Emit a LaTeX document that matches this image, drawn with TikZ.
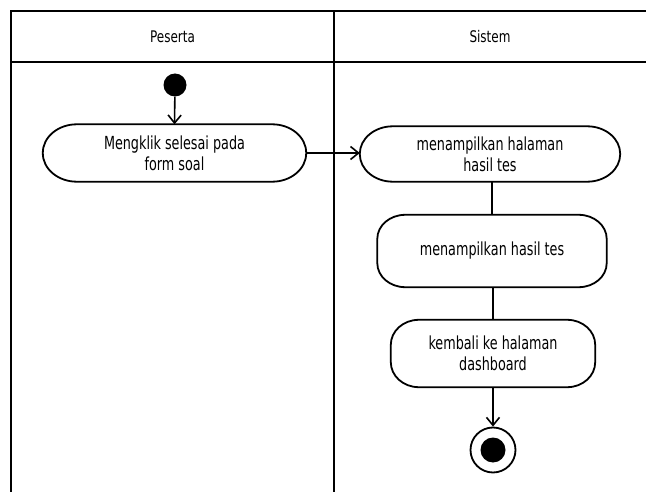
\documentclass[tikz,border=0pt]{standalone}
\usepackage{fontspec}
\setmainfont{DejaVu Sans}[FakeStretch=0.75]
\newfontfamily\actfont{DejaVu Sans}[FakeStretch=0.71]
\usetikzlibrary{arrows.meta}
% outline of an activity: rectangle with quarter-ellipse corners (rx, ry)
\newcommand\actoutline[3]{%
  \draw[actline] ([xshift=#2]#1.north west) -- ([xshift=-#2]#1.north east)
    .. controls ([xshift=-0.448*#2]#1.north east) and ([yshift=-0.448*#3]#1.north east)
    .. ([yshift=-#3]#1.north east) -- ([yshift=#3]#1.south east)
    .. controls ([yshift=0.448*#3]#1.south east) and ([xshift=-0.448*#2]#1.south east)
    .. ([xshift=-#2]#1.south east) -- ([xshift=#2]#1.south west)
    .. controls ([xshift=0.448*#2]#1.south west) and ([yshift=0.448*#3]#1.south west)
    .. ([yshift=#3]#1.south west) -- ([yshift=-#3]#1.north west)
    .. controls ([yshift=-0.448*#3]#1.north west) and ([xshift=0.448*#2]#1.north west)
    .. cycle;}
\begin{document}
\begin{tikzpicture}[x=1pt,y=-1pt,
  lane/.style={line width=2pt,black},
  lanehead/.style={font=\fontsize{16}{18}\selectfont},
  activity/.style={align=center,inner sep=0pt,font=\actfont\fontsize{18}{21}\selectfont},
  actline/.style={line width=1.8pt,line join=round},
  flow/.style={line width=1.6pt,-{Straight Barb[length=8pt,width=13pt,line width=1.6pt]}},
  link/.style={line width=1.6pt},
  startnode/.style={circle,fill=black,inner sep=0pt,minimum size=23pt},
  endring/.style={circle,draw,line width=1.8pt,inner sep=0pt,minimum size=45pt},
  endcore/.style={circle,fill=black,inner sep=0pt,minimum size=25pt}]
\useasboundingbox (0,0) rectangle (646,492);
\fill[white] (0,0) rectangle (646,492);

% swimlane frame
\coordinate (tl) at (11,11);
\coordinate (tr) at (646,11);
\coordinate (hl) at (11,62);
\coordinate (hr) at (646,62);
\coordinate (bl) at (11,492);
\coordinate (dtop) at (334,11);
\coordinate (dbot) at (334,492);
\draw[lane] (tr) -- (tl) -- (bl);
\draw[lane] (hl) -- (hr);
\draw[lane] (dtop) -- (dbot);
\node[lanehead] (h1) at (172.5,37) {Peserta};
\node[lanehead] (h2) at (490,37) {Sistem};

% activities
\node[startnode] (start) at (175,85) {};
\node[activity,minimum width=263pt,minimum height=57pt] (a1) at (174.5,153)
  {Mengklik selesai pada\\form soal};
\node[activity,minimum width=260pt,minimum height=55pt] (a2) at (490,154)
  {menampilkan halaman\\hasil tes};
\node[activity,minimum width=229pt,minimum height=72pt] (a3) at (492,251)
  {menampilkan hasil tes};
\node[activity,minimum width=204pt,minimum height=67pt] (a4) at (493,353.5)
  {kembali ke halaman\\dashboard};
\actoutline{a1}{34pt}{28.5pt}
\actoutline{a2}{33pt}{27.5pt}
\actoutline{a3}{28pt}{24pt}
\actoutline{a4}{28pt}{25pt}
\node[endring] (stop) at (493,450) {};
\node[endcore] (stopc) at (493,450) {};

% transitions
\draw[flow] (start) -- (a1.north);
\draw[flow] (a1.east) -- (a1.east -| a2.west);
\draw[link] (a3.north |- a2.south) -- (a3.north);
\draw[link] (a4.north |- a3.south) -- (a4.north);
\draw[flow] (a4.south) -- (stop.north);
\end{tikzpicture}
\end{document}
